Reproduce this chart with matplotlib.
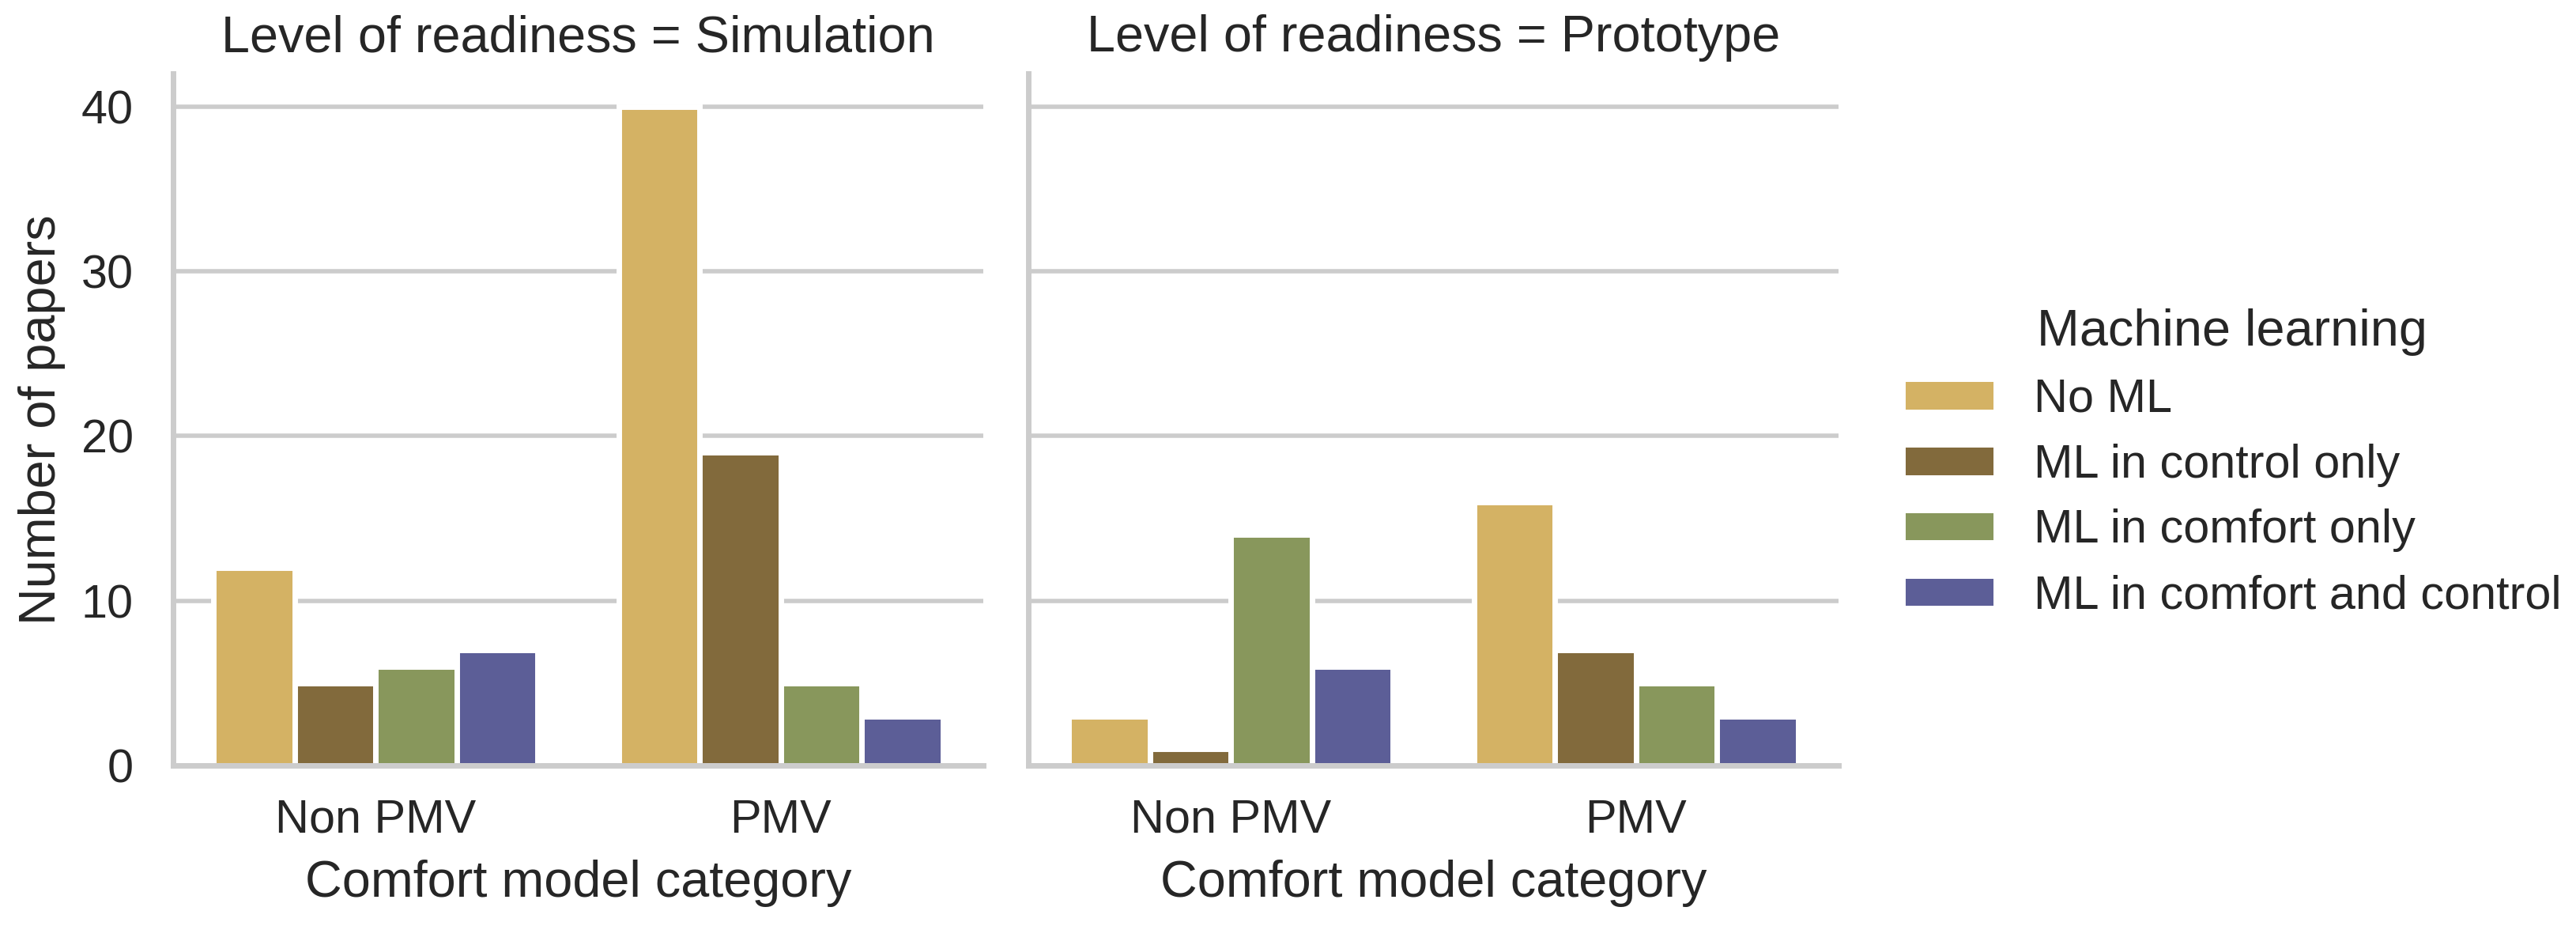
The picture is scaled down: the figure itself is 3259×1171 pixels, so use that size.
import matplotlib
matplotlib.use("Agg")
import matplotlib.pyplot as plt
import pandas as pd
import seaborn as sns

# ---- data ----
readiness_levels = ["Simulation", "Prototype"]
comfort_categories = ["Non PMV", "PMV"]
ml_categories = ["No ML", "ML in control only", "ML in comfort only", "ML in comfort and control"]
simulation_non_pmv = [12, 5, 6, 7]
simulation_pmv = [40, 19, 5, 3]
prototype_non_pmv = [3, 1, 14, 6]
prototype_pmv = [16, 7, 5, 3]
y_ticks = [0, 10, 20, 30, 40]
palette = ["#D4B264", "#826A3C", "#88975C", "#5C5E97"]

rows = []
for lvl, groups in zip(readiness_levels,
                       [[simulation_non_pmv, simulation_pmv],
                        [prototype_non_pmv, prototype_pmv]]):
    for cat, vals in zip(comfort_categories, groups):
        for ml, v in zip(ml_categories, vals):
            rows.append({"Level of readiness": lvl, "Comfort model category": cat,
                         "Machine learning": ml, "Number of papers": v})
df = pd.DataFrame(rows)

# ---- style ----
TXT = "#262626"
GRID = "#cccccc"
SMALL = 21.4
BIG = 23.3
plt.rcParams.update({
    "font.family": ["Liberation Sans", "DejaVu Sans"],
    "text.color": TXT,
    "axes.labelcolor": TXT,
    "xtick.color": TXT,
    "ytick.color": TXT,
    "axes.edgecolor": GRID,
    "axes.linewidth": 2.5,
    "grid.color": GRID,
    "grid.linewidth": 2.0,
    "axes.axisbelow": True,
    "xtick.major.size": 0,
    "ytick.major.size": 0,
    "xtick.major.pad": 15,
    "ytick.major.pad": 18,
    "xtick.labelsize": SMALL,
    "ytick.labelsize": SMALL,
    "axes.labelsize": BIG,
    "axes.titlesize": BIG,
})

W, H = 3259, 1171
fig = plt.figure(figsize=(W / 200, H / 200), dpi=200)
bottom = (H - 968) / H
height = 875 / H
axes = [fig.add_axes([219 / W, bottom, 1025 / W, height]),
        fig.add_axes([1301 / W, bottom, 1025 / W, height])]

for ax, lvl in zip(axes, readiness_levels):
    sub = df[df["Level of readiness"] == lvl]
    sns.barplot(data=sub, x="Comfort model category", y="Number of papers",
                hue="Machine learning", hue_order=ml_categories, order=comfort_categories,
                palette=palette, saturation=1, errorbar=None, ax=ax, legend=False,
                edgecolor="white", linewidth=2.5)
    ax.set_ylim(0, 42)
    ax.set_xlim(-0.5, 1.5)
    ax.set_yticks(y_ticks)
    ax.grid(True, axis="y")
    ax.grid(False, axis="x")
    for s in ["top", "right"]:
        ax.spines[s].set_visible(False)
    ax.set_title(f"Level of readiness = {lvl}", pad=10)
    ax.set_xlabel("Comfort model category", labelpad=8)

axes[0].set_ylabel("Number of papers", labelpad=7)
axes[1].set_ylabel("")
axes[1].tick_params(axis="y", labelleft=False)

handles = [plt.Rectangle((0, 0), 1, 1, facecolor=c, edgecolor="white", linewidth=2.5)
           for c in palette]
fig.legend(handles, ml_categories, title="Machine learning", loc="center left",
           bbox_to_anchor=(2353 / W, 0.5), frameon=False, fontsize=SMALL,
           title_fontsize=BIG, labelspacing=0.47)

fig.savefig("out.png", dpi=200)
